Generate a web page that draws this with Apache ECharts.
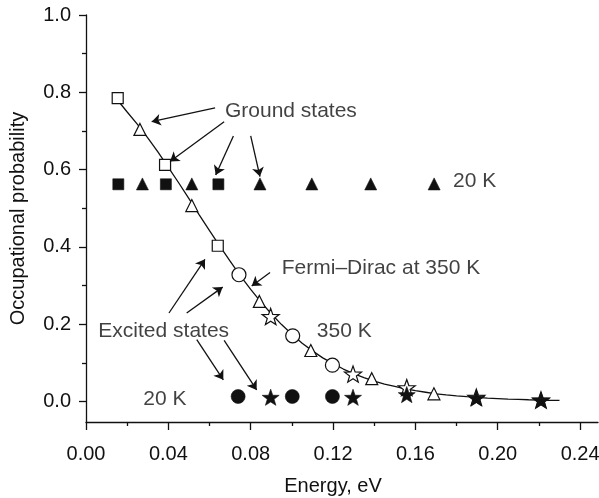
<!DOCTYPE html>
<html>
<head>
<meta charset="utf-8">
<script src="https://cdn.jsdelivr.net/npm/echarts@6/dist/echarts.min.js"></script>
<style>html,body{margin:0;padding:0;background:#fff}#c{width:599px;height:498px}</style>
</head>
<body>
<div id="c"></div>
<script>
// ---- data (energy in eV, occupational probability) ----
const curveE = [0.015,0.020,0.025,0.030,0.035,0.040,0.045,0.050,0.055,0.060,0.065,0.070,0.075,0.080,0.085,0.090,0.095,0.100,0.105,0.110,0.115,0.120,0.125,0.130,0.135,0.140,0.145,0.150,0.155,0.160,0.165,0.170,0.175,0.180,0.185,0.190,0.195,0.200,0.205,0.210,0.215,0.220,0.225,0.230];
const curveP = [0.782,0.749,0.717,0.682,0.645,0.606,0.566,0.525,0.483,0.442,0.402,0.363,0.325,0.290,0.257,0.227,0.199,0.174,0.151,0.131,0.113,0.098,0.084,0.072,0.062,0.053,0.045,0.039,0.033,0.028,0.024,0.020,0.017,0.0146,0.0124,0.0105,0.0089,0.0076,0.0064,0.0055,0.0046,0.0039,0.0033,0.0028];

// 350 K (open markers)
const openSquareE = [0.0154, 0.0384, 0.0640];
const openSquareP = [0.785, 0.612, 0.403];
const openTriE = [0.0262, 0.0514, 0.0842, 0.1092, 0.1388, 0.1690];
const openTriP = [0.704, 0.507, 0.259, 0.132, 0.059, 0.020];
const openCircleE = [0.0743, 0.1004, 0.1197];
const openCircleP = [0.328, 0.170, 0.094];
const openStarE = [0.0897, 0.1297, 0.1558, 0.1896, 0.2210];
const openStarP = [0.220, 0.071, 0.036, 0.011, 0.004];

// 20 K ground states (filled)
const fillSquareE = [0.0157, 0.0388, 0.0643];
const fillSquareP = [0.562, 0.562, 0.562];
const fillTriE = [0.0274, 0.0514, 0.0845, 0.1097, 0.1383, 0.1691];
const fillTriP = [0.563, 0.563, 0.563, 0.563, 0.563, 0.563];
// 20 K excited states (filled)
const fillCircleE = [0.0739, 0.1002, 0.1197];
const fillCircleP = [0.013, 0.013, 0.013];
const fillStarE = [0.0897, 0.1297, 0.1558, 0.1896, 0.2210];
const fillStarP = [0.011, 0.011, 0.018, 0.009, 0.004];

// axis ticks
const xMajor = [0, 0.04, 0.08, 0.12, 0.16, 0.20, 0.24];
const xMinor = [0.02, 0.06, 0.10, 0.14, 0.18, 0.22];
const yMajor = [0, 0.2, 0.4, 0.6, 0.8, 1.0];
const yMinor = [0.1, 0.3, 0.5, 0.7, 0.9];

// annotations: text anchors (left edge, vertical middle)
const annoText = ['Ground states', '20 K', 'Fermi–Dirac at 350 K', '350 K', 'Excited states', '20 K'];
const annoX = [0.0675, 0.1783, 0.0951, 0.1121, 0.0060, 0.0278];
const annoY = [0.752, 0.570, 0.344, 0.181, 0.183, 0.007];
// arrows: [x1,y1,x2,y2] (tip at x2,y2)
const arrows = [
  [0.0627, 0.760, 0.0319, 0.724],
  [0.0671, 0.724, 0.0408, 0.621],
  [0.0716, 0.687, 0.0630, 0.586],
  [0.0800, 0.687, 0.0845, 0.582],
  [0.0894, 0.334, 0.0805, 0.299],
  [0.0403, 0.229, 0.0578, 0.368],
  [0.0489, 0.229, 0.0664, 0.296],
  [0.0538, 0.160, 0.0667, 0.056],
  [0.0671, 0.158, 0.0829, 0.030]
];

const FONT = '"Liberation Sans", Arial, Helvetica, sans-serif';
const INK = '#111';
const STAR = 'path://M0,-10L2.35,-3.24L9.51,-3.09L3.8,1.24L5.88,8.09L0,4.3L-5.88,8.09L-3.8,1.24L-9.51,-3.09L-2.35,-3.24Z';

const zip = (a, b) => a.map((v, i) => [v, b[i]]);

function markers(name, E, P, symbol, size, filled, z) {
  return {
    name, type: 'scatter', data: zip(E, P), symbol, symbolSize: size,
    symbolKeepAspect: true, z,
    itemStyle: { color: filled ? INK : '#fff', borderColor: INK, borderWidth: filled ? 0.6 : 1.2, opacity: 1 },
    emphasis: { disabled: true }, silent: true
  };
}

const xMax = 0.2487, yMin = -0.053;
const axisLine = { show: true, onZero: false, lineStyle: { color: INK, width: 1.3 } };

const option = {
  animation: false,
  backgroundColor: '#fff',
  grid: { left: 86, right: 1, top: 15, bottom: 76, outerBoundsMode: 'none' },
  xAxis: [
    {
      type: 'value', min: 0, max: xMax, position: 'bottom',
      axisLine, splitLine: { show: false },
      axisTick: { show: true, inside: false, length: 8, customValues: xMajor, lineStyle: { color: INK, width: 1.3 } },
      axisLabel: { customValues: xMajor, formatter: v => v.toFixed(2), margin: 22, fontSize: 20, fontFamily: FONT, color: INK },
      name: 'Energy, eV', nameLocation: 'middle', nameGap: 54,
      nameTextStyle: { fontSize: 20, fontFamily: FONT, color: INK, padding: [0, 18, 0, 0] }
    },
    {
      type: 'value', min: 0, max: xMax, position: 'bottom', gridIndex: 0,
      axisLine: { show: false, onZero: false }, splitLine: { show: false },
      axisTick: { show: true, inside: false, length: 4, customValues: xMinor, lineStyle: { color: INK, width: 1.3 } },
      axisLabel: { show: false }
    }
  ],
  yAxis: [
    {
      type: 'value', min: yMin, max: 1.0, position: 'left',
      axisLine, splitLine: { show: false },
      axisTick: { show: true, inside: false, length: 7, customValues: yMajor, lineStyle: { color: INK, width: 1.3 } },
      axisLabel: { customValues: yMajor, formatter: v => v.toFixed(1), margin: 15, fontSize: 20, fontFamily: FONT, color: INK },
      name: 'Occupational probability', nameLocation: 'middle', nameGap: 58,
      nameTextStyle: { fontSize: 20, fontFamily: FONT, color: INK }
    },
    {
      type: 'value', min: yMin, max: 1.0, position: 'left', gridIndex: 0,
      axisLine: { show: false, onZero: false }, splitLine: { show: false },
      axisTick: { show: true, inside: false, length: 4, customValues: yMinor, lineStyle: { color: INK, width: 1.3 } },
      axisLabel: { show: false }
    }
  ],
  series: [
    {
      name: 'Fermi–Dirac 350 K', type: 'line', data: zip(curveE, curveP),
      showSymbol: false, symbol: 'none', smooth: false, z: 2,
      lineStyle: { color: INK, width: 1.3 }, silent: true
    },
    markers('open squares', openSquareE, openSquareP, 'rect', 11, false, 3),
    markers('open triangles', openTriE, openTriP, 'triangle', 12, false, 3),
    markers('open circles', openCircleE, openCircleP, 'circle', 14, false, 3),
    markers('open stars', openStarE, openStarP, STAR, 17, false, 3),
    markers('filled squares', fillSquareE, fillSquareP, 'rect', 11, true, 4),
    markers('filled triangles', fillTriE, fillTriP, 'triangle', 12, true, 4),
    markers('filled circles', fillCircleE, fillCircleP, 'circle', 14, true, 4),
    markers('filled stars', fillStarE, fillStarP, STAR, 17, true, 5),
    {
      name: 'arrows', type: 'lines', coordinateSystem: 'cartesian2d', z: 6, silent: true,
      symbol: ['none', 'arrow'], symbolSize: 9,
      lineStyle: { color: INK, width: 1.3, opacity: 1 },
      data: arrows.map(a => ({ coords: [[a[0], a[1]], [a[2], a[3]]] }))
    },
    {
      name: 'labels', type: 'scatter', symbolSize: 0, z: 7, silent: true,
      data: annoText.map((t, i) => ({ value: [annoX[i], annoY[i]], name: t })),
      label: { show: true, position: 'right', distance: 0, formatter: p => p.name, fontSize: 21, fontFamily: FONT, color: INK }
    }
  ]
};

const chart = echarts.init(document.getElementById('c'), null, { renderer: 'canvas' });
chart.setOption(option);
</script>
</body>
</html>
